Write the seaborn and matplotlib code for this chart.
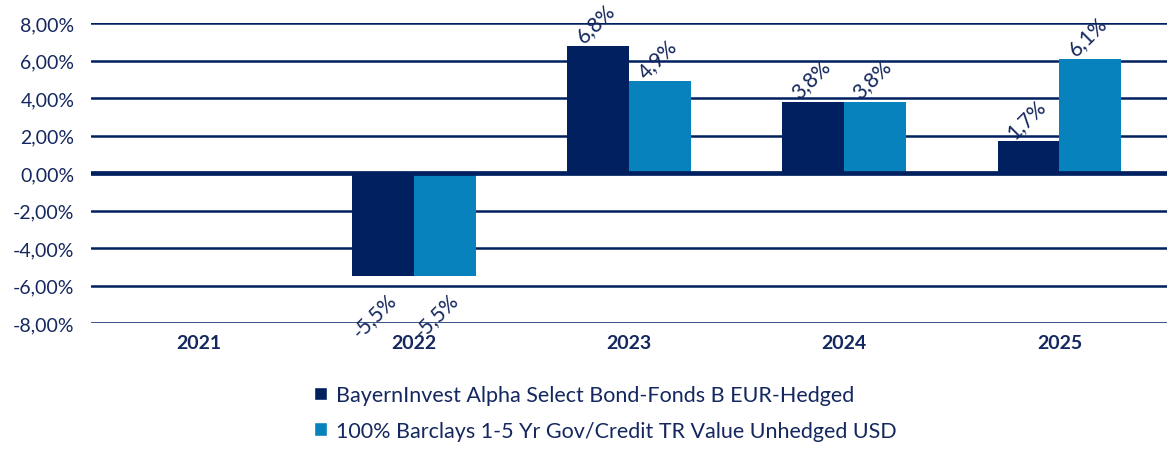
import numpy as np
import pandas as pd
import matplotlib
matplotlib.use('Agg')
import matplotlib.pyplot as plt
from matplotlib.patches import Patch
import seaborn as sns

# ── Data ─────────────────────────────────────────────────────────────────────
years      = ['2021', '2022', '2023', '2024', '2025']
fund       = [np.nan, -5.5, 6.8, 3.8, 1.7]
benchmark  = [np.nan, -5.5, 4.9, 3.8, 6.1]
series     = ['BayernInvest Alpha Select Bond-Fonds B EUR-Hedged',
              '100% Barclays 1-5 Yr Gov/Credit TR Value Unhedged USD']
yticks     = [-8, -6, -4, -2, 0, 2, 4, 6, 8]

# ── Style ────────────────────────────────────────────────────────────────────
NAVY   = '#00205F'
BLUE   = '#0882BC'
TEXT   = '#14275E'
sns.set_style('white')
plt.rcParams['font.family'] = ['Lato', 'DejaVu Sans']

df = pd.DataFrame({
    'year':   years * 2,
    'value':  fund + benchmark,
    'series': [series[0]] * len(years) + [series[1]] * len(years),
})

fig = plt.figure(figsize=(11.67, 4.52), dpi=100)
ax = fig.add_axes([0.078, 0.283, 0.922, 0.663])

sns.barplot(data=df, x='year', y='value', hue='series', order=years,
            hue_order=series, palette=[NAVY, BLUE], width=0.575,
            saturation=1, legend=False, errorbar=None, linewidth=0,
            ax=ax, zorder=3)

# data labels
for cont in ax.containers:
    for bar in cont:
        h = bar.get_height()
        if np.isnan(h):
            continue
        cx = bar.get_x() + bar.get_width() / 2
        txt = f"{h:.1f}".replace('.', ',') + '%'
        if h >= 0:
            ax.annotate(txt, (cx, h), xytext=(-2, 0), textcoords='offset points',
                        ha='center', va='bottom', rotation=45, fontsize=15, color=TEXT)
        else:
            ax.annotate(txt, (cx, h), xytext=(-6, -9), textcoords='offset points',
                        ha='center', va='top', rotation=45, fontsize=15, color=TEXT)

# axes
ax.set_ylim(-8, 8)
ax.set_yticks(yticks)
ax.set_yticklabels([f"{t:.2f}".replace('.', ',') + '%' for t in yticks],
                   fontsize=14, color=TEXT)
ax.set_xlabel(''); ax.set_ylabel('')
for lbl in ax.get_xticklabels():
    lbl.set_fontweight('bold'); lbl.set_fontsize(14); lbl.set_color(TEXT)
ax.tick_params(axis='both', length=0)
ax.tick_params(axis='y', pad=12)
ax.tick_params(axis='x', pad=8)
ax.yaxis.grid(True, color=NAVY, lw=1.8, zorder=0)
ax.set_axisbelow(True)
ax.axhline(0, color=NAVY, lw=3.4, zorder=4)
sns.despine(ax=ax, left=True, bottom=True)

# legend
handles = [Patch(facecolor=NAVY), Patch(facecolor=BLUE)]
fig.legend(handles, series, loc='upper left', bbox_to_anchor=(0.262, 0.165),
           frameon=False, fontsize=15.5, labelcolor=TEXT, handlelength=0.6,
           handleheight=0.6, handletextpad=0.4, labelspacing=0.72,
           borderaxespad=0)

fig.savefig('out.png', dpi=100)
